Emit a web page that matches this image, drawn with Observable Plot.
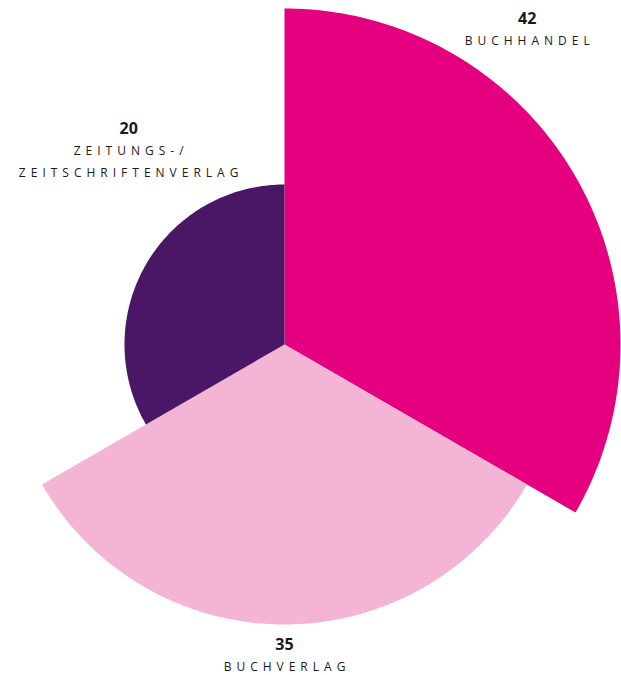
<!DOCTYPE html>
<html>
<head>
<meta charset="utf-8">
<script src="https://cdn.jsdelivr.net/npm/d3@7"></script>
<script src="https://cdn.jsdelivr.net/npm/@observablehq/plot@0.6"></script>
<style>
  html, body { margin: 0; padding: 0; background: #fff; }
  #chart { width: 621px; height: 675px; }
</style>
</head>
<body>
<div id="chart"></div>
<script>
// Data
const categories = ["Buchhandel", "Buchverlag", "Zeitungs-/\nZeitschriftenverlag"];
const values = [42, 35, 20];
const colors = ["#E4007F", "#F4B4D4", "#4A1766"];

// Layout (presentation only)
const W = 621, H = 675;
const pxPerUnit = 8;
const cx = 284, cy = 344;
const n = categories.length;
const step = 2 * Math.PI / n;
// label placement: angle (rad, clockwise from top) and distance
const labelPlacement = [
  {angle: 0.64, dist: 50.8},
  {angle: Math.PI, dist: 37.5},
  {angle: -0.625, dist: 33.3}
];

const sectors = [];
categories.forEach((c, i) => {
  const r = values[i];
  const a0 = i * step, a1 = (i + 1) * step;
  sectors.push({cat: c, x: 0, y: 0});
  const k = 120;
  for (let j = 0; j <= k; j++) {
    const a = a0 + (a1 - a0) * j / k;
    sectors.push({cat: c, x: r * Math.sin(a), y: r * Math.cos(a)});
  }
  sectors.push({cat: c, x: 0, y: 0});
});

const labels = categories.map((c, i) => {
  const p = labelPlacement[i];
  return {
    cat: c,
    value: values[i],
    name: c.toUpperCase(),
    x: p.dist * Math.sin(p.angle),
    y: p.dist * Math.cos(p.angle)
  };
});

const chart = Plot.plot({
  width: W,
  height: H,
  margin: 0,
  x: {domain: [-cx / pxPerUnit, (W - cx) / pxPerUnit], axis: null},
  y: {domain: [-(H - cy) / pxPerUnit, cy / pxPerUnit], axis: null},
  color: {domain: categories, range: colors},
  style: {fontFamily: "'Open Sans', sans-serif", background: "#fff"},
  marks: [
    Plot.line(sectors, {x: "x", y: "y", z: "cat", fill: "cat", stroke: "none", curve: "linear"}),
    Plot.text(labels, {x: "x", y: "y", text: d => String(d.value), fontSize: 16, fontWeight: "bold", fill: "#1a1a1a", lineAnchor: "middle"}),
    Plot.text(labels, {x: "x", y: "y", text: "name", fontSize: 12, fill: "#1a1a1a", lineAnchor: "top", dy: 11, dx: 2.5, lineHeight: 1.83})
  ]
});

d3.select(chart).selectAll("g[aria-label=text]").filter((d, i) => i === 1)
  .attr("letter-spacing", "5");

document.getElementById("chart").appendChild(chart);
</script>
</body>
</html>
